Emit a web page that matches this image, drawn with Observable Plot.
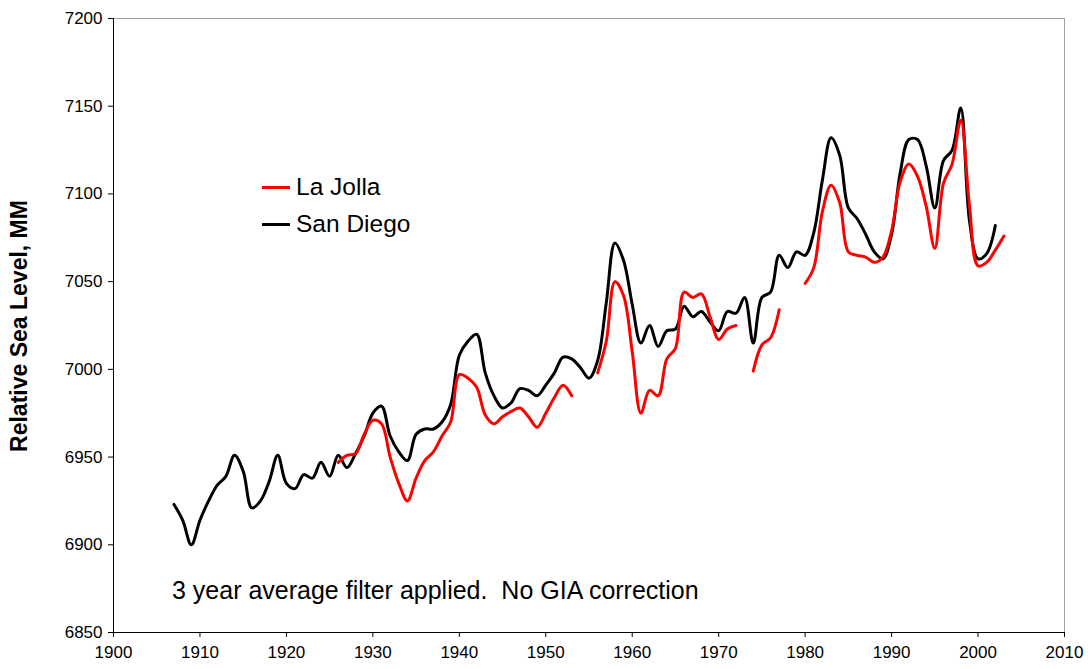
<!DOCTYPE html>
<html><head><meta charset="utf-8">
<script src="https://cdn.jsdelivr.net/npm/d3@7"></script>
<script src="https://cdn.jsdelivr.net/npm/@observablehq/plot@0.6"></script>
<style>
body{margin:0;background:#fff;font-family:Arial,"Liberation Sans",sans-serif;}
#wrap{position:relative;width:1088px;height:669px;overflow:hidden;}
#wrap svg{display:block;}
.ylab{position:absolute;left:19px;top:326px;transform:translate(-50%,-50%) rotate(-90deg);font-weight:bold;font-size:23px;line-height:26px;white-space:nowrap;color:#000;}
.leg{position:absolute;left:262px;font-size:24.5px;line-height:30px;color:#000;white-space:nowrap;}
.leg span.sw{display:inline-block;width:28px;height:3px;vertical-align:middle;margin-right:6px;position:relative;top:-1px;}
.note{position:absolute;left:172px;top:575px;font-size:25px;line-height:30px;white-space:pre;color:#000;}
</style></head><body><div id="wrap"></div>
<script>
const sdYears = [1907,1908,1909,1910,1911,1912,1913,1914,1915,1916,1917,1918,1919,1920,1921,1922,1923,1924,1925,1926,1927,1928,1929,1930,1931,1932,1933,1934,1935,1936,1937,1938,1939,1940,1941,1942,1943,1944,1945,1946,1947,1948,1949,1950,1951,1952,1953,1954,1955,1956,1957,1958,1959,1960,1961,1962,1963,1964,1965,1966,1967,1968,1969,1970,1971,1972,1973,1974,1975,1976,1977,1978,1979,1980,1981,1982,1983,1984,1985,1986,1987,1988,1989,1990,1991,1992,1993,1994,1995,1996,1997,1998,1999,2000,2001,2002];
const sdLevel = [6923,6914,6900,6914,6925,6934,6939,6951,6942,6921,6925,6936,6951,6935,6932,6940,6938,6947,6939,6951,6944,6952,6962,6975,6979,6962,6953,6948,6963,6966,6966,6970,6980,7008,7016,7020,6998,6985,6978,6981,6989,6988,6985,6991,6998,7007,7006,7001,6995,7005,7038,7072,7062,7037,7015,7025,7013,7022,7023,7036,7030,7033,7027,7022,7033,7032,7041,7015,7041,7044,7065,7058,7067,7065,7078,7108,7132,7122,7092,7086,7077,7067,7063,7077,7112,7131,7131,7116,7092,7119,7125,7149,7085,7063,7066,7082];
const ljYears = [1926,1927,1928,1929,1930,1931,1932,1933,1934,1935,1936,1937,1938,1939,1940,1941,1942,1943,1944,1945,1946,1947,1948,1949,1950,1951,1952,1953,1954,1955,1956,1957,1958,1959,1960,1961,1962,1963,1964,1965,1966,1967,1968,1969,1970,1971,1972,1973,1974,1975,1976,1977,1978,1979,1980,1981,1982,1983,1984,1985,1986,1987,1988,1989,1990,1991,1992,1993,1994,1995,1996,1997,1998,1999,2000,2001,2002,2003];
const ljLevel = [6947,6951,6952,6963,6971,6969,6950,6935,6925,6938,6948,6953,6962,6970,6997,6995,6990,6974,6969,6973,6976,6978,6973,6967,6975,6984,6991,6985,null,null,6998,7016,7050,7042,7010,6975,6988,6985,7006,7012,7044,7041,7043,7030,7017,7023,7025,null,6999,7014,7018,7034,null,null,7049,7058,7090,7105,7095,7067,7065,7064,7061,7064,7079,7107,7117,7110,7093,7069,7106,7117,7142,7094,7059,7061,7068,7076];
const xTicks = [1900,1910,1920,1930,1940,1950,1960,1970,1980,1990,2000,2010];
const yTicks = [6850,6900,6950,7000,7050,7100,7150,7200];
const seriesNames = ["La Jolla","San Diego"];
const seriesColors = ["#ff0000","#000000"];
const yTitle = "Relative Sea Level, MM";
const note = "3 year average filter applied.  No GIA correction";

const sd = sdYears.map((y,i)=>({year:y, level:sdLevel[i]}));
const lj = ljYears.map((y,i)=>({year:y, level:ljLevel[i]}));

const chart = Plot.plot({
  width:1088, height:669,
  marginTop:18, marginLeft:113, marginRight:24, marginBottom:37,
  style:{fontSize:"17px", fontFamily:"Arial, 'Liberation Sans', sans-serif", color:"#000", background:"#fff"},
  x:{domain:[1900,2010]},
  y:{domain:[6850,7200]},
  marks:[
    Plot.frame({stroke:"#a0a0a0"}),
    Plot.axisX({ticks:xTicks, tickFormat:d=>String(d), tickSize:5, tickPadding:8, label:null, stroke:"#000", fontSize:17}),
    Plot.axisY({ticks:yTicks, tickFormat:d=>String(d), tickSize:5, tickPadding:6, label:null, stroke:"#000", fontSize:17}),
    Plot.ruleX([1900],{stroke:"#000"}),
    Plot.ruleY([6850],{stroke:"#000"}),
    Plot.line(sd,{x:"year", y:"level", stroke:seriesColors[1], strokeWidth:3, curve:"catmull-rom"}),
    Plot.line(lj,{x:"year", y:"level", stroke:seriesColors[0], strokeWidth:3, curve:"catmull-rom"})
  ]
});
const wrap = document.getElementById("wrap");
wrap.appendChild(chart);

const yl = document.createElement("div"); yl.className="ylab"; yl.textContent=yTitle; wrap.appendChild(yl);
seriesNames.forEach((n,i)=>{
  const d=document.createElement("div"); d.className="leg"; d.style.top=(172+i*37)+"px";
  const sw=document.createElement("span"); sw.className="sw"; sw.style.background=seriesColors[i];
  d.appendChild(sw); d.appendChild(document.createTextNode(n)); wrap.appendChild(d);
});
const nt=document.createElement("div"); nt.className="note"; nt.textContent=note; wrap.appendChild(nt);
</script>
</body></html>
